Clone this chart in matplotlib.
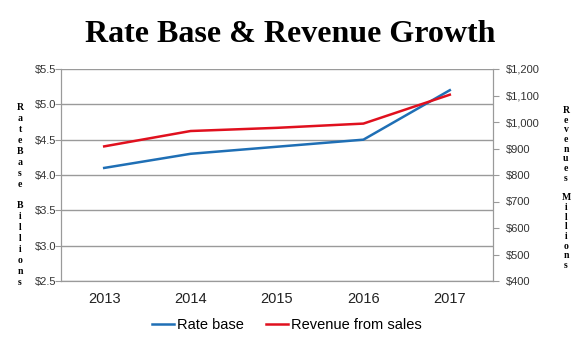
import matplotlib.pyplot as plt

plt.rcParams['font.family'] = 'Liberation Sans'

years = ['2013', '2014', '2015', '2016', '2017']
rate_base = [4.10, 4.30, 4.40, 4.50, 5.20]          # $ billions
revenue = [908, 966, 978, 994, 1103]                # $ millions

left_ticks = [2.5, 3.0, 3.5, 4.0, 4.5, 5.0, 5.5]
right_ticks = [400, 500, 600, 700, 800, 900, 1000, 1100, 1200]

blue = '#1f6fb5'
red = '#e0101e'
grey = '#9a9a9a'

fig = plt.figure(figsize=(5.8, 3.41), dpi=100)
ax = fig.add_axes([61 / 580, 1 - 281 / 341, 432 / 580, 212 / 341])
ax2 = ax.twinx()

x = range(len(years))
l1, = ax.plot(x, rate_base, color=blue, lw=1.8)
l2, = ax2.plot(x, revenue, color=red, lw=1.8)

ax.set_xlim(-0.5, len(years) - 0.5)
ax.set_ylim(2.5, 5.5)
ax.set_yticks(left_ticks)
ax.set_yticklabels([f'${v:.1f}' for v in left_ticks])
ax.set_xticks(list(x))
ax.set_xticklabels(years)
ax2.set_ylim(400, 1200)
ax2.set_yticks(right_ticks)
ax2.set_yticklabels([f'${v:,}' for v in right_ticks])

ax.grid(axis='y', color=grey, lw=1)
ax.set_axisbelow(True)
for a in (ax, ax2):
    for s in a.spines.values():
        s.set_color(grey)
    a.spines['top'].set_visible(False)
ax.tick_params(axis='y', labelsize=8, colors=grey, labelcolor='#333333', length=4, pad=15)
ax.tick_params(axis='x', labelsize=10.5, length=0, pad=8, labelcolor='#222222')
ax2.tick_params(axis='y', labelsize=8, colors=grey, labelcolor='#333333', length=4, pad=5)
for lbl in ax.get_yticklabels():
    lbl.set_horizontalalignment('left')

# stacked letter axis titles
left_title = list('RateBase') + [''] + list('Billions')
right_title = list('Revenues') + [''] + list('Millions')
fig.text(20 / 580, 1 - 195 / 341, '\n'.join(left_title), ha='center', va='center',
         family='Liberation Serif', weight='bold', fontsize=7, linespacing=1.28)
fig.text(566 / 580, 1 - 188 / 341, '\n'.join(right_title), ha='center', va='center',
         family='Liberation Serif', weight='bold', fontsize=7, linespacing=1.1)

fig.text(0.5, 1 - 35 / 341, 'Rate Base & Revenue Growth', ha='center', va='center',
         family='Liberation Serif', weight='bold', fontsize=23)

fig.legend([l1, l2], ['Rate base', 'Revenue from sales'], loc='center',
           bbox_to_anchor=(287 / 580, 1 - 325 / 341), ncol=2, frameon=False,
           fontsize=10.5, handlelength=1.5, handletextpad=0.2, columnspacing=1.5)

fig.savefig('out.png', dpi=100)
